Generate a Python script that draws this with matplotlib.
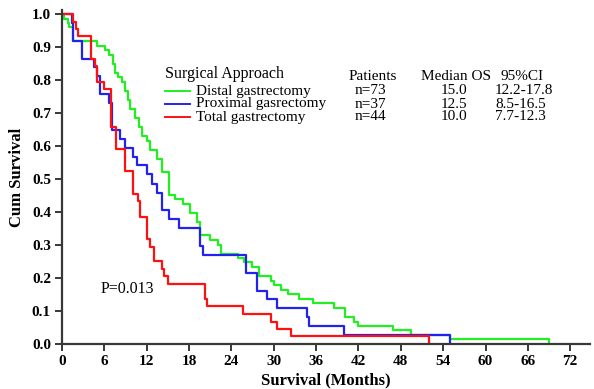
import matplotlib
matplotlib.use('Agg')
import matplotlib.pyplot as plt
from matplotlib.lines import Line2D

plt.rcParams['font.family'] = ['Liberation Serif', 'DejaVu Serif']

# Kaplan-Meier curves (time in months, cumulative survival)
distal_t = [0, 0.3, 0.8, 1.0, 1.6, 4.9, 6.1, 6.7, 7.2, 7.5, 8.0, 8.5, 8.9, 9.4, 9.7,
            10.3, 10.9, 11.3, 12.0, 12.5, 13.4, 14.1, 15.1, 16.0, 17.2, 18.1, 19.1,
            19.5, 21.0, 22.1, 22.5, 25.0, 25.8, 26.9, 27.9, 29.6, 30.1, 31.0, 32.0,
            33.6, 35.6, 38.5, 40.1, 41.4, 42.0, 46.9, 49.5, 55.0, 69.0]
distal_s = [1.0, 0.986, 0.973, 0.959, 0.918, 0.904, 0.890, 0.877, 0.849, 0.822, 0.808,
            0.795, 0.767, 0.740, 0.712, 0.685, 0.658, 0.630, 0.616, 0.589, 0.562, 0.521,
            0.452, 0.438, 0.425, 0.397, 0.370, 0.329, 0.315, 0.301, 0.274, 0.260, 0.247,
            0.233, 0.205, 0.192, 0.178, 0.164, 0.151, 0.137, 0.123, 0.110, 0.082, 0.068,
            0.055, 0.041, 0.027, 0.014, 0.0]

proximal_t = [0, 1.4, 1.6, 2.9, 4.6, 4.9, 5.4, 6.6, 7.1, 8.2, 8.9, 10.1, 10.6, 12.0,
              12.7, 13.4, 14.1, 15.1, 16.6, 19.5, 20.0, 26.1, 27.6, 29.0, 30.5, 34.7,
              35.0, 40.0, 55.0]
proximal_s = [1.0, 0.973, 0.919, 0.865, 0.838, 0.811, 0.757, 0.730, 0.649, 0.622,
              0.595, 0.568, 0.541, 0.514, 0.486, 0.459, 0.405, 0.378, 0.351, 0.297,
              0.270, 0.216, 0.162, 0.135, 0.108, 0.081, 0.054, 0.027, 0.0]

total_t = [0, 1.5, 2.0, 2.3, 4.1, 4.7, 4.9, 6.0, 7.0, 7.6, 8.9, 10.1, 10.7, 11.0, 12.0,
           12.4, 13.0, 14.1, 14.4, 15.0, 20.2, 20.6, 25.6, 29.6, 30.5, 32.5, 52.0]
total_s = [1.0, 0.977, 0.955, 0.932, 0.864, 0.841, 0.795, 0.773, 0.659, 0.591, 0.523,
           0.455, 0.432, 0.386, 0.318, 0.295, 0.250, 0.227, 0.205, 0.182, 0.136, 0.114,
           0.091, 0.068, 0.045, 0.023, 0.0]

groups = ['Distal gastrectomy', 'Proximal gasrectomy', 'Total gastrectomy']
patients = ['n=73', 'n=37', 'n=44']
median_os = ['15.0', '12.5', '10.0']
ci95 = ['12.2-17.8', '8.5-16.5', '7.7-12.3']
colors = ['#22ee22', '#2222ee', '#ff1111']

W, H = 594, 389
fig = plt.figure(figsize=(W / 100, H / 100), dpi=100)
ax = fig.add_axes([62 / W, 1 - 344 / H, 528 / W, 334 / H])

curves = [(distal_t, distal_s), (proximal_t, proximal_s), (total_t, total_s)]
for (t, s), c in zip(curves, colors):
    ax.plot(t, s, drawstyle='steps-post', color=c, lw=1.6)

ax.set_xlim(0, 74.8)
ax.set_ylim(0, 1.012)
ax.set_xticks(range(0, 73, 6))
ax.set_yticks([i / 10 for i in range(11)])
ax.set_yticklabels(['%.1f' % (i / 10) for i in range(11)])
for sp in ['top', 'right']:
    ax.spines[sp].set_visible(False)
for sp in ['left', 'bottom']:
    ax.spines[sp].set_linewidth(1.6)
    ax.spines[sp].set_color('#383838')
ax.tick_params(direction='out', length=5, width=1.4, color='#383838',
               labelsize=11, pad=3)
for lab in ax.get_xticklabels() + ax.get_yticklabels():
    lab.set_fontweight('bold')

ax.set_xlabel('Survival (Months)', fontsize=12, fontweight='bold', labelpad=3)
ax.set_ylabel('Cum Survival', fontsize=12, fontweight='bold', labelpad=5)

ax.text(5.4, 0.167, 'P=0.013', fontsize=11.5, va='center')


def fx(px):
    return px / W


def fy(py):
    return 1 - py / H


fs = 11
fig.text(fx(165), fy(74), 'Surgical Approach', fontsize=11.5, va='center')
fig.text(fx(349), fy(76), 'Patients', fontsize=fs, va='center')
fig.text(fx(421), fy(76), 'Median OS', fontsize=fs, va='center')
fig.text(fx(500), fy(76), '95%CI', fontsize=fs, va='center')
rows = [91, 104, 117]
for i, yy in enumerate(rows):
    fig.add_artist(Line2D([fx(165), fx(190)], [fy(yy), fy(yy)], color=colors[i], lw=1.4))
    fig.text(fx(196), fy(yy), groups[i], fontsize=fs, va='center')
    fig.text(fx(355), fy(yy), patients[i], fontsize=fs, va='center')
    fig.text(fx(441), fy(yy), median_os[i], fontsize=fs, va='center')
    fig.text(fx(495), fy(yy), ci95[i], fontsize=fs, va='center')

fig.savefig('out.png', dpi=100)
